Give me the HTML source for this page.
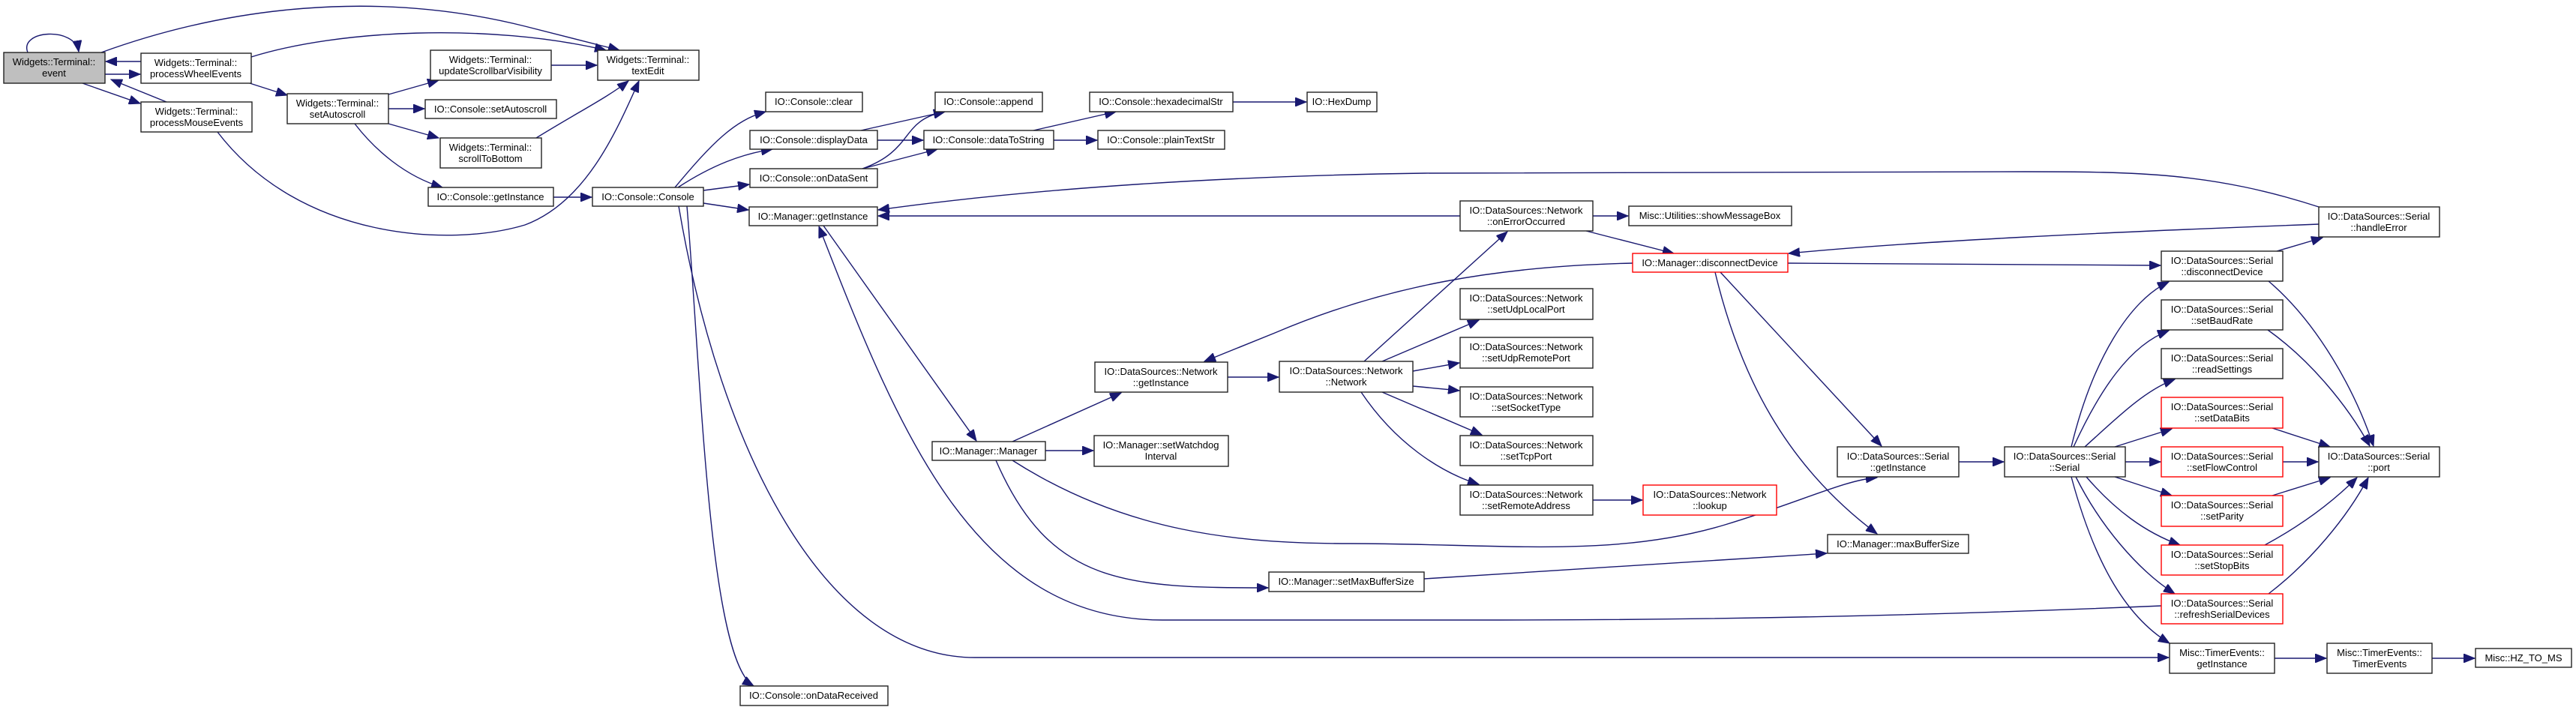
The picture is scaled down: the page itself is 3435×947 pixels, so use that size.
<!DOCTYPE html>
<html><head><meta charset="utf-8"><style>
html,body{margin:0;padding:0;background:#fff;}
svg{display:block;}
text{font-family:"Liberation Sans",Arial,sans-serif;font-size:13px;fill:#000;text-anchor:middle;}
.n{fill:#fff;stroke:#222;stroke-width:1.4;}
.r{fill:#fff;stroke:#ff0000;stroke-width:1.4;}
.g{fill:#bfbfbf;stroke:#222;stroke-width:1.4;}
.e{fill:none;stroke:#191970;stroke-width:1.4;marker-end:url(#a);}
</style></head><body>
<svg width="3435" height="947" viewBox="0 0 3435 947" xmlns="http://www.w3.org/2000/svg">
<defs><marker id="a" markerUnits="userSpaceOnUse" markerWidth="16" markerHeight="12" refX="15" refY="6" orient="auto"><path d="M0,0 L15,6 L0,12 z" fill="#191970" stroke="#191970"/></marker></defs>

<!-- edges -->
<path class="e" d="M37,70 C25,40 100,35 105,69"/>
<path class="e" d="M135,70 C300,10 500,-15 700,35 C760,50 800,60 826,67"/>
<path class="e" d="M188,82 L141,82"/>
<path class="e" d="M140,99 L187,99"/>
<path class="e" d="M110,111 L187,138"/>
<path class="e" d="M222,136 L148,106"/>
<path class="e" d="M335,76 C450,40 650,30 808,67"/>
<path class="e" d="M333,111 L383,127"/>
<path class="e" d="M290,176 C400,320 600,330 700,300 C780,270 820,180 852,108"/>
<path class="e" d="M518,126 L585,107"/>
<path class="e" d="M518,145 L566,145"/>
<path class="e" d="M518,165 L585,184"/>
<path class="e" d="M473,165 C500,200 540,235 590,250"/>
<path class="e" d="M735,87 L796,87"/>
<path class="e" d="M715,184 C770,150 810,130 838,108"/>
<path class="e" d="M738,263 L789,263"/>
<path class="e" d="M900,250 C950,190 980,160 1021,149"/>
<path class="e" d="M904,250 C950,220 990,205 1030,199"/>
<path class="e" d="M938,254 L999,246"/>
<path class="e" d="M938,271 L998,280"/>
<path class="e" d="M916,275 C935,500 945,880 1005,915"/>
<path class="e" d="M905,275 C960,600 1100,877 1300,877 L2892,877"/>
<path class="e" d="M1148,174 L1260,149"/>
<path class="e" d="M1170,187 L1231,187"/>
<path class="e" d="M1150,225 C1220,200 1200,160 1260,149"/>
<path class="e" d="M1150,225 L1250,199"/>
<path class="e" d="M1378,174 L1488,149"/>
<path class="e" d="M1405,187 L1463,187"/>
<path class="e" d="M1644,136 L1742,136"/>
<path class="e" d="M1098,301 L1302,588"/>
<path class="e" d="M2883,808 C2600,820 2300,827 2000,827 L1550,827 C1300,827 1200,580 1092,302"/>
<path class="e" d="M1350,589 L1495,524"/>
<path class="e" d="M1394,601 L1458,601"/>
<path class="e" d="M1350,614 C1500,710 1650,725 1800,725 C2000,725 2150,745 2300,700 C2400,670 2460,640 2503,637"/>
<path class="e" d="M1328,614 C1400,780 1500,784 1691,784"/>
<path class="e" d="M1899,772 L2436,738"/>
<path class="e" d="M1947,288 L1171,288"/>
<path class="e" d="M3092,276 C2950,230 2850,229 2700,229 L1900,231 C1600,235 1350,255 1171,280"/>
<path class="e" d="M3092,299 C2800,310 2550,322 2385,338"/>
<path class="e" d="M2124,288 L2171,288"/>
<path class="e" d="M2115,308 L2232,338"/>
<path class="e" d="M2177,351 C2000,355 1850,380 1700,444 L1606,482"/>
<path class="e" d="M2384,351 L2881,354"/>
<path class="e" d="M2294,363 L2509,595"/>
<path class="e" d="M2287,363 C2320,500 2380,620 2503,712"/>
<path class="e" d="M1819,482 L2010,309"/>
<path class="e" d="M1843,482 L1972,427"/>
<path class="e" d="M1884,495 L1946,484"/>
<path class="e" d="M1884,515 L1946,521"/>
<path class="e" d="M1843,523 L1976,580"/>
<path class="e" d="M1815,523 C1860,590 1920,630 1972,646"/>
<path class="e" d="M1637,503 L1705,503"/>
<path class="e" d="M2124,667 L2190,667"/>
<path class="e" d="M2612,616 L2672,616"/>
<path class="e" d="M2762,596 C2790,480 2840,400 2892,376"/>
<path class="e" d="M2765,596 C2800,520 2840,460 2892,441"/>
<path class="e" d="M2780,596 C2820,560 2860,520 2900,506"/>
<path class="e" d="M2820,596 L2896,572"/>
<path class="e" d="M2834,616 L2881,616"/>
<path class="e" d="M2820,636 L2896,661"/>
<path class="e" d="M2782,636 C2820,680 2860,710 2907,727"/>
<path class="e" d="M2768,636 C2800,700 2850,760 2900,792"/>
<path class="e" d="M2762,636 C2790,740 2830,820 2893,858"/>
<path class="e" d="M3036,335 L3097,317"/>
<path class="e" d="M3025,375 C3090,430 3140,520 3165,595"/>
<path class="e" d="M3024,440 C3080,480 3130,540 3160,595"/>
<path class="e" d="M3030,571 L3107,596"/>
<path class="e" d="M3044,616 L3091,616"/>
<path class="e" d="M3030,661 L3107,637"/>
<path class="e" d="M3020,727 C3070,700 3110,670 3143,637"/>
<path class="e" d="M3025,792 C3080,750 3130,690 3158,637"/>
<path class="e" d="M3033,878 L3102,878"/>
<path class="e" d="M3243,878 L3300,878"/>

<!-- nodes -->
<rect class="g" x="5" y="70" width="135" height="41"/><text x="72" y="87">Widgets::Terminal::</text><text x="72" y="102">event</text>
<rect class="n" x="188" y="71" width="147" height="40"/><text x="261" y="88">Widgets::Terminal::</text><text x="261" y="103">processWheelEvents</text>
<rect class="n" x="188" y="136" width="148" height="40"/><text x="262" y="153">Widgets::Terminal::</text><text x="262" y="168">processMouseEvents</text>
<rect class="n" x="383" y="125" width="135" height="40"/><text x="450" y="142">Widgets::Terminal::</text><text x="450" y="157">setAutoscroll</text>
<rect class="n" x="574" y="67" width="161" height="40"/><text x="654" y="84">Widgets::Terminal::</text><text x="654" y="99">updateScrollbarVisibility</text>
<rect class="n" x="567" y="133" width="175" height="25"/><text x="654" y="150">IO::Console::setAutoscroll</text>
<rect class="n" x="587" y="184" width="135" height="40"/><text x="654" y="201">Widgets::Terminal::</text><text x="654" y="216">scrollToBottom</text>
<rect class="n" x="571" y="250" width="167" height="25"/><text x="654" y="267">IO::Console::getInstance</text>
<rect class="n" x="797" y="67" width="135" height="40"/><text x="864" y="84">Widgets::Terminal::</text><text x="864" y="99">textEdit</text>
<rect class="n" x="790" y="250" width="148" height="25"/><text x="864" y="267">IO::Console::Console</text>
<rect class="n" x="1021" y="123" width="129" height="26"/><text x="1085" y="140">IO::Console::clear</text>
<rect class="n" x="1000" y="174" width="170" height="25"/><text x="1085" y="191">IO::Console::displayData</text>
<rect class="n" x="1000" y="225" width="170" height="25"/><text x="1085" y="242">IO::Console::onDataSent</text>
<rect class="n" x="999" y="276" width="171" height="25"/><text x="1084" y="293">IO::Manager::getInstance</text>
<rect class="n" x="1247" y="123" width="143" height="26"/><text x="1318" y="140">IO::Console::append</text>
<rect class="n" x="1232" y="174" width="173" height="25"/><text x="1318" y="191">IO::Console::dataToString</text>
<rect class="n" x="1453" y="123" width="191" height="26"/><text x="1548" y="140">IO::Console::hexadecimalStr</text>
<rect class="n" x="1464" y="174" width="169" height="25"/><text x="1548" y="191">IO::Console::plainTextStr</text>
<rect class="n" x="1743" y="123" width="93" height="26"/><text x="1789" y="140">IO::HexDump</text>
<rect class="n" x="1947" y="268" width="177" height="40"/><text x="2035" y="285">IO::DataSources::Network</text><text x="2035" y="300">::onErrorOccurred</text>
<rect class="n" x="2172" y="275" width="217" height="26"/><text x="2280" y="292">Misc::Utilities::showMessageBox</text>
<rect class="r" x="2177" y="338" width="207" height="25"/><text x="2280" y="355">IO::Manager::disconnectDevice</text>
<rect class="n" x="1947" y="385" width="177" height="41"/><text x="2035" y="402">IO::DataSources::Network</text><text x="2035" y="417">::setUdpLocalPort</text>
<rect class="n" x="1947" y="450" width="177" height="41"/><text x="2035" y="467">IO::DataSources::Network</text><text x="2035" y="482">::setUdpRemotePort</text>
<rect class="n" x="1706" y="482" width="178" height="41"/><text x="1795" y="499">IO::DataSources::Network</text><text x="1795" y="514">::Network</text>
<rect class="n" x="1947" y="516" width="177" height="40"/><text x="2035" y="533">IO::DataSources::Network</text><text x="2035" y="548">::setSocketType</text>
<rect class="n" x="1947" y="581" width="177" height="40"/><text x="2035" y="598">IO::DataSources::Network</text><text x="2035" y="613">::setTcpPort</text>
<rect class="n" x="1947" y="647" width="177" height="40"/><text x="2035" y="664">IO::DataSources::Network</text><text x="2035" y="679">::setRemoteAddress</text>
<rect class="r" x="2191" y="647" width="178" height="40"/><text x="2280" y="664">IO::DataSources::Network</text><text x="2280" y="679">::lookup</text>
<rect class="n" x="1460" y="483" width="177" height="40"/><text x="1548" y="500">IO::DataSources::Network</text><text x="1548" y="515">::getInstance</text>
<rect class="n" x="1243" y="589" width="151" height="25"/><text x="1318" y="606">IO::Manager::Manager</text>
<rect class="n" x="1459" y="581" width="179" height="41"/><text x="1548" y="598">IO::Manager::setWatchdog</text><text x="1548" y="613">Interval</text>
<rect class="n" x="1692" y="763" width="207" height="26"/><text x="1795" y="780">IO::Manager::setMaxBufferSize</text>
<rect class="n" x="987" y="915" width="197" height="26"/><text x="1085" y="932">IO::Console::onDataReceived</text>
<rect class="n" x="2450" y="596" width="162" height="40"/><text x="2531" y="613">IO::DataSources::Serial</text><text x="2531" y="628">::getInstance</text>
<rect class="n" x="2437" y="713" width="188" height="25"/><text x="2531" y="730">IO::Manager::maxBufferSize</text>
<rect class="n" x="3092" y="276" width="161" height="40"/><text x="3172" y="293">IO::DataSources::Serial</text><text x="3172" y="308">::handleError</text>
<rect class="n" x="2882" y="335" width="162" height="40"/><text x="2963" y="352">IO::DataSources::Serial</text><text x="2963" y="367">::disconnectDevice</text>
<rect class="n" x="2882" y="400" width="162" height="40"/><text x="2963" y="417">IO::DataSources::Serial</text><text x="2963" y="432">::setBaudRate</text>
<rect class="n" x="2882" y="465" width="162" height="40"/><text x="2963" y="482">IO::DataSources::Serial</text><text x="2963" y="497">::readSettings</text>
<rect class="r" x="2882" y="530" width="162" height="41"/><text x="2963" y="547">IO::DataSources::Serial</text><text x="2963" y="562">::setDataBits</text>
<rect class="r" x="2882" y="596" width="162" height="40"/><text x="2963" y="613">IO::DataSources::Serial</text><text x="2963" y="628">::setFlowControl</text>
<rect class="r" x="2882" y="661" width="162" height="41"/><text x="2963" y="678">IO::DataSources::Serial</text><text x="2963" y="693">::setParity</text>
<rect class="r" x="2882" y="727" width="162" height="40"/><text x="2963" y="744">IO::DataSources::Serial</text><text x="2963" y="759">::setStopBits</text>
<rect class="r" x="2882" y="792" width="162" height="40"/><text x="2963" y="809">IO::DataSources::Serial</text><text x="2963" y="824">::refreshSerialDevices</text>
<rect class="n" x="3092" y="596" width="161" height="40"/><text x="3172" y="613">IO::DataSources::Serial</text><text x="3172" y="628">::port</text>
<rect class="n" x="2673" y="596" width="161" height="40"/><text x="2753" y="613">IO::DataSources::Serial</text><text x="2753" y="628">::Serial</text>
<rect class="n" x="2893" y="858" width="140" height="40"/><text x="2963" y="875">Misc::TimerEvents::</text><text x="2963" y="890">getInstance</text>
<rect class="n" x="3103" y="858" width="140" height="40"/><text x="3173" y="875">Misc::TimerEvents::</text><text x="3173" y="890">TimerEvents</text>
<rect class="n" x="3301" y="865" width="128" height="25"/><text x="3365" y="882">Misc::HZ_TO_MS</text>
</svg>
</body></html>
